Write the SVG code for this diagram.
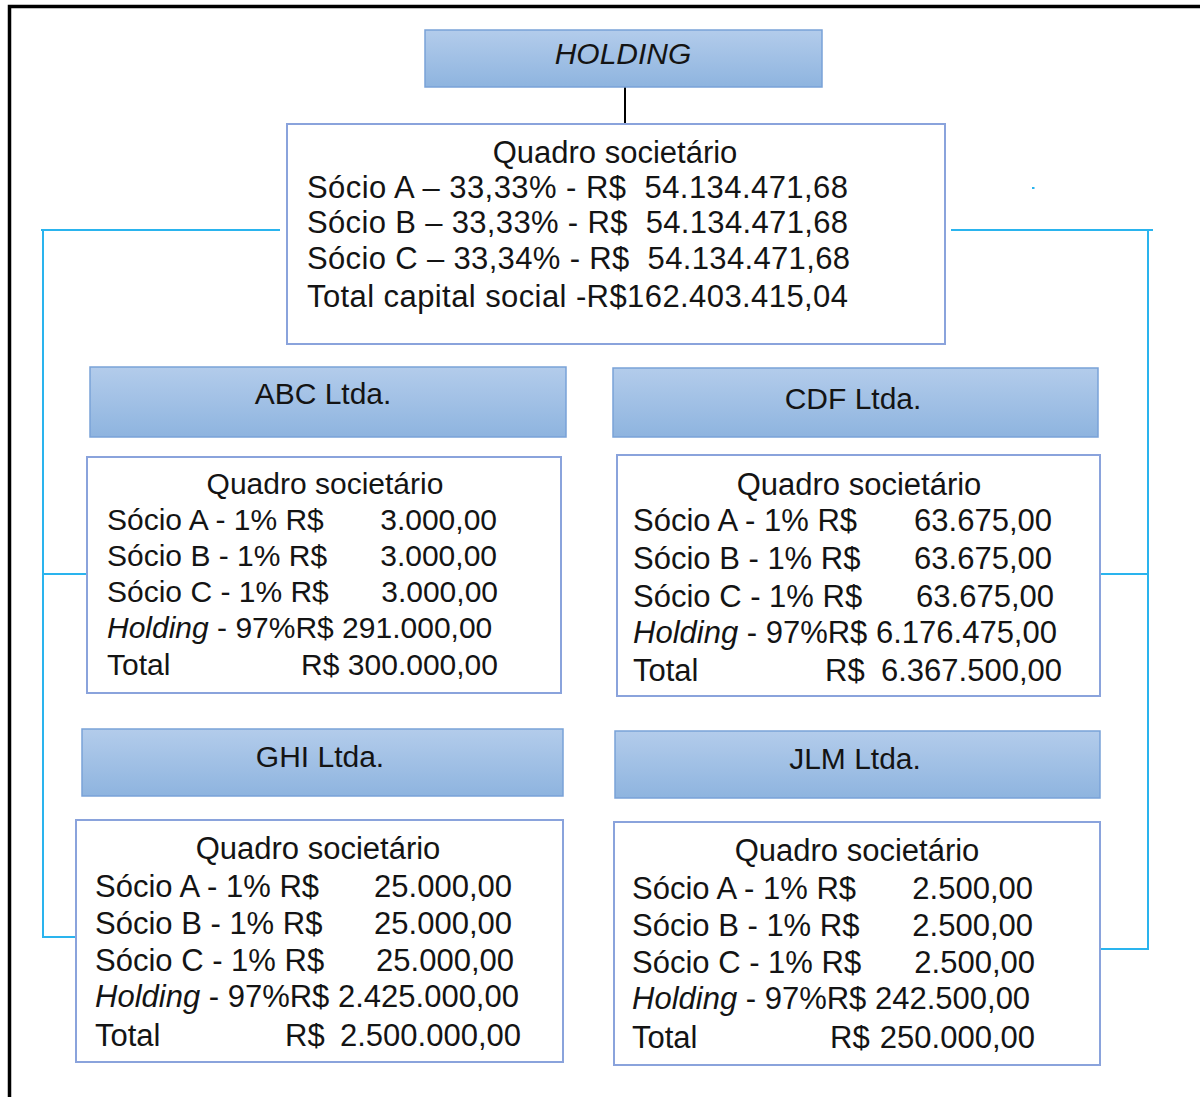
<svg xmlns="http://www.w3.org/2000/svg" width="1200" height="1097" viewBox="0 0 1200 1097">
  <defs>
    <linearGradient id="hdrFill" x1="0" y1="0" x2="0" y2="1">
      <stop offset="0" stop-color="#b3cceb"/>
      <stop offset="1" stop-color="#8eb4df"/>
    </linearGradient>
    <style>
      text { font-family: "Liberation Sans", Arial, sans-serif; fill: #141414; }
      .hdr { fill: url(#hdrFill); stroke: #79a2d8; stroke-width: 1.5; }
      .box { fill: #ffffff; stroke: #8aa3dc; stroke-width: 2; }
      .ht { font-size: 30px; text-anchor: middle; }
      .s30 { font-size: 30px; }
      .s31 { font-size: 31px; }
      .pre { white-space: pre; }
      .end { text-anchor: end; }
      .mid { text-anchor: middle; }
      .it { font-style: italic; }
      .link { fill: none; stroke: #2ab4ee; stroke-width: 2; }
      .frame { fill: none; stroke: #000; stroke-width: 3.5; }
    </style>
  </defs>

  <rect width="1200" height="1097" fill="#ffffff"/>

  <!-- outer frame (top and left edges) -->
  <path class="frame" d="M9.5,1097 V6.5 H1200"/>

  <!-- connectors -->
  <g id="connectors">
    <line x1="625" y1="87" x2="625" y2="123" stroke="#000" stroke-width="2"/>
    <path class="link" d="M41,230 H280"/>
    <path class="link" d="M43,230 V938"/>
    <path class="link" d="M43,574 H87"/>
    <path class="link" d="M43,937 H76"/>
    <path class="link" d="M951,230 H1153"/>
    <path class="link" d="M1148,230 V950"/>
    <path class="link" d="M1100,574 H1148"/>
    <path class="link" d="M1100,949 H1148"/>
    <rect x="1032" y="187" width="2.5" height="2" fill="#2ab4ee"/>
  </g>

  <!-- holding -->
  <g id="holding">
    <rect class="hdr" x="425" y="30" width="397" height="57"/>
    <text class="ht it" x="623" y="64">HOLDING</text>
  </g>

  <g id="holding-quadro">
    <rect class="box" x="287" y="124" width="658" height="220"/>
    <text class="s31 mid" x="615" y="163">Quadro societário</text>
    <text class="s31 pre" x="307" y="198" textLength="541" lengthAdjust="spacing">Sócio A – 33,33% - R$  54.134.471,68</text>
    <text class="s31 pre" x="307" y="233" textLength="541" lengthAdjust="spacing">Sócio B – 33,33% - R$  54.134.471,68</text>
    <text class="s31 pre" x="307" y="269" textLength="543" lengthAdjust="spacing">Sócio C – 33,34% - R$  54.134.471,68</text>
    <text class="s31" x="307" y="307" textLength="541" lengthAdjust="spacing">Total capital social -R$162.403.415,04</text>
  </g>

  <!-- ABC Ltda. -->
  <g id="abc">
    <rect class="hdr" x="90" y="367" width="476" height="70"/>
    <text class="ht" x="323" y="404">ABC Ltda.</text>
  </g>
  <g id="abc-quadro">
    <rect class="box" x="87" y="457" width="474" height="236"/>
    <text class="s30 mid" x="325" y="494">Quadro societário</text>
    <text class="s30" x="107" y="530">Sócio A - 1% R$</text>
    <text class="s30 end" x="497" y="530">3.000,00</text>
    <text class="s30" x="107" y="566">Sócio B - 1% R$</text>
    <text class="s30 end" x="497" y="566">3.000,00</text>
    <text class="s30" x="107" y="602">Sócio C - 1% R$</text>
    <text class="s30 end" x="498" y="602">3.000,00</text>
    <text class="s30" x="107" y="638"><tspan class="it">Holding</tspan> - 97%R$ 291.000,00</text>
    <text class="s30" x="107" y="675">Total</text>
    <text class="s30" x="301" y="675">R$</text>
    <text class="s30 end" x="498" y="675">300.000,00</text>
  </g>

  <!-- CDF Ltda. -->
  <g id="cdf">
    <rect class="hdr" x="613" y="368" width="485" height="69"/>
    <text class="ht" x="853" y="409">CDF Ltda.</text>
  </g>
  <g id="cdf-quadro">
    <rect class="box" x="617" y="455" width="483" height="241"/>
    <text class="s31 mid" x="859" y="495">Quadro societário</text>
    <text class="s31" x="633" y="531">Sócio A - 1% R$</text>
    <text class="s31 end" x="1052" y="531">63.675,00</text>
    <text class="s31" x="633" y="569">Sócio B - 1% R$</text>
    <text class="s31 end" x="1052" y="569">63.675,00</text>
    <text class="s31" x="633" y="607">Sócio C - 1% R$</text>
    <text class="s31 end" x="1054" y="607">63.675,00</text>
    <text class="s31" x="633" y="643"><tspan class="it">Holding</tspan> - 97%R$ 6.176.475,00</text>
    <text class="s31" x="633" y="681">Total</text>
    <text class="s31" x="825" y="681">R$</text>
    <text class="s31 end" x="1062" y="681">6.367.500,00</text>
  </g>

  <!-- GHI Ltda. -->
  <g id="ghi">
    <rect class="hdr" x="82" y="729" width="481" height="67"/>
    <text class="ht" x="320" y="767">GHI Ltda.</text>
  </g>
  <g id="ghi-quadro">
    <rect class="box" x="76" y="820" width="487" height="242"/>
    <text class="s31 mid" x="318" y="859">Quadro societário</text>
    <text class="s31" x="95" y="897">Sócio A - 1% R$</text>
    <text class="s31 end" x="512" y="897">25.000,00</text>
    <text class="s31" x="95" y="934">Sócio B - 1% R$</text>
    <text class="s31 end" x="512" y="934">25.000,00</text>
    <text class="s31" x="95" y="971">Sócio C - 1% R$</text>
    <text class="s31 end" x="514" y="971">25.000,00</text>
    <text class="s31" x="95" y="1007"><tspan class="it">Holding</tspan> - 97%R$ 2.425.000,00</text>
    <text class="s31" x="95" y="1046">Total</text>
    <text class="s31" x="285" y="1046">R$</text>
    <text class="s31 end" x="521" y="1046">2.500.000,00</text>
  </g>

  <!-- JLM Ltda. -->
  <g id="jlm">
    <rect class="hdr" x="615" y="731" width="485" height="67"/>
    <text class="ht" x="855" y="769">JLM Ltda.</text>
  </g>
  <g id="jlm-quadro">
    <rect class="box" x="614" y="822" width="486" height="243"/>
    <text class="s31 mid" x="857" y="861">Quadro societário</text>
    <text class="s31" x="632" y="899">Sócio A - 1% R$</text>
    <text class="s31 end" x="1033" y="899">2.500,00</text>
    <text class="s31" x="632" y="936">Sócio B - 1% R$</text>
    <text class="s31 end" x="1033" y="936">2.500,00</text>
    <text class="s31" x="632" y="973">Sócio C - 1% R$</text>
    <text class="s31 end" x="1035" y="973">2.500,00</text>
    <text class="s31" x="632" y="1009"><tspan class="it">Holding</tspan> - 97%R$ 242.500,00</text>
    <text class="s31" x="632" y="1048">Total</text>
    <text class="s31" x="830" y="1048">R$</text>
    <text class="s31 end" x="1035" y="1048">250.000,00</text>
  </g>
</svg>
